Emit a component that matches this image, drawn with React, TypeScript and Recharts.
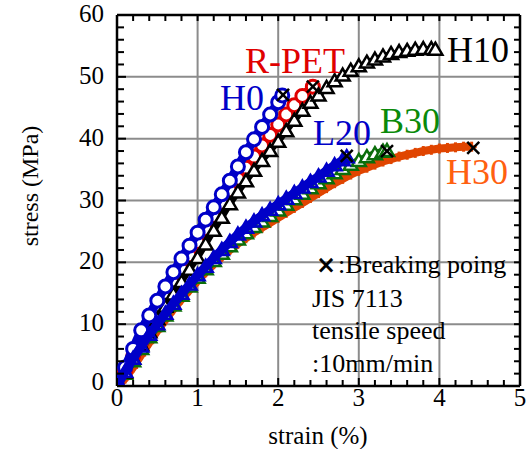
import React from 'react';
import {
  ReferenceArea,
  ReferenceLine,
  Scatter,
  ScatterChart,
  XAxis,
  YAxis,
} from 'recharts';

if (typeof document !== 'undefined') {
  document.body.style.margin = '0';
}

const SERIF = '"Liberation Serif", "Times New Roman", serif';

// strain (%) / stress (MPa)
const h0Strain = [0, 0.1, 0.2, 0.3, 0.4, 0.5, 0.6, 0.7, 0.8, 0.9, 1.0, 1.1, 1.2, 1.3, 1.4, 1.5, 1.6, 1.7, 1.8, 1.9, 2.0, 2.05];
const h0Stress = [0, 3, 6, 9, 11.4, 13.8, 16.1, 18.4, 20.6, 22.7, 24.8, 26.9, 28.9, 31, 33.2, 35.5, 37.8, 39.9, 41.9, 43.9, 45.9, 47];

const rpetStrain = [0, 0.1, 0.2, 0.3, 0.4, 0.5, 0.6, 0.7, 0.8, 0.9, 1.0, 1.1, 1.2, 1.3, 1.4, 1.5, 1.6, 1.7, 1.8, 1.9, 2.0, 2.1, 2.2, 2.3, 2.43];
const rpetStress = [0, 2.4, 4.8, 7.2, 9.6, 12, 14.3, 16.6, 18.9, 21.1, 23.3, 25.4, 27.5, 29.6, 31.6, 33.5, 35.3, 37.1, 38.9, 40.6, 42.3, 43.9, 45.4, 46.9, 48.4];

const h10Strain = [0, 0.1, 0.2, 0.3, 0.4, 0.5, 0.6, 0.7, 0.8, 0.9, 1.0, 1.1, 1.2, 1.3, 1.4, 1.5, 1.6, 1.7, 1.8, 1.9, 2.0, 2.1, 2.2, 2.3, 2.4, 2.5, 2.6, 2.7, 2.8, 2.9, 3.0, 3.1, 3.2, 3.3, 3.4, 3.5, 3.6, 3.7, 3.8, 3.9, 3.95];
const h10Stress = [0, 2.2, 4.4, 6.6, 8.7, 10.8, 12.8, 14.8, 16.8, 18.8, 20.7, 22.9, 25.1, 27.2, 29.4, 31.3, 33.1, 34.8, 36.4, 38, 39.5, 41.2, 42.9, 44.5, 45.8, 47, 48.2, 49.3, 50.2, 51, 51.7, 52.3, 52.8, 53.3, 53.7, 54, 54.2, 54.4, 54.5, 54.5, 54.4];

const l20Strain = [0, 0.1, 0.2, 0.3, 0.4, 0.5, 0.6, 0.7, 0.8, 0.9, 1.0, 1.1, 1.2, 1.3, 1.4, 1.5, 1.6, 1.7, 1.8, 1.9, 2.0, 2.1, 2.2, 2.3, 2.4, 2.5, 2.6, 2.7, 2.8, 2.85];
const l20Stress = [0, 2.3, 4.4, 6.4, 8.3, 10, 11.7, 13.3, 14.9, 16.4, 17.9, 19.3, 20.7, 22, 23.3, 24.5, 25.6, 26.6, 27.6, 28.5, 29.4, 30.3, 31.2, 32.1, 33, 33.9, 34.8, 35.7, 36.5, 37];

const b30Strain = [0, 0.1, 0.2, 0.3, 0.4, 0.5, 0.6, 0.7, 0.8, 0.9, 1.0, 1.1, 1.2, 1.3, 1.4, 1.5, 1.6, 1.7, 1.8, 1.9, 2.0, 2.1, 2.2, 2.3, 2.4, 2.5, 2.6, 2.7, 2.8, 2.9, 3.0, 3.1, 3.2, 3.3, 3.35];
const b30Stress = [0, 2, 4, 6, 7.9, 9.7, 11.4, 13, 14.6, 16.1, 17.5, 18.9, 20.2, 21.4, 22.6, 23.7, 24.7, 25.7, 26.6, 27.5, 28.4, 29.3, 30.2, 31.1, 32, 32.8, 33.6, 34.4, 35.1, 35.8, 36.4, 37, 37.5, 37.9, 38];

const h30Strain = [0, 0.1, 0.2, 0.3, 0.4, 0.5, 0.6, 0.7, 0.8, 0.9, 1.0, 1.1, 1.2, 1.3, 1.4, 1.5, 1.6, 1.7, 1.8, 1.9, 2.0, 2.1, 2.2, 2.3, 2.4, 2.5, 2.6, 2.7, 2.8, 2.9, 3.0, 3.1, 3.2, 3.3, 3.4, 3.5, 3.6, 3.7, 3.8, 3.9, 4.0, 4.1, 4.2, 4.3, 4.4];
const h30Stress = [0, 1.2, 3, 5, 7, 8.9, 10.7, 12.4, 14, 15.5, 17, 18.4, 19.7, 20.9, 22, 23, 23.9, 24.8, 25.6, 26.4, 27.2, 28, 28.8, 29.6, 30.4, 31.2, 32, 32.8, 33.5, 34.2, 34.8, 35.3, 35.8, 36.3, 36.7, 37.1, 37.4, 37.7, 38, 38.2, 38.4, 38.5, 38.6, 38.7, 38.7];

// breaking points (x marks)
const breakStrain = [2.06, 2.43, 2.85, 3.35, 4.42];
const breakStress = [47.1, 48.4, 37.2, 38, 38.5];

const xTicks = [0, 0.2, 0.4, 0.6, 0.8, 1, 1.2, 1.4, 1.6, 1.8, 2, 2.2, 2.4, 2.6, 2.8, 3, 3.2, 3.4, 3.6, 3.8, 4, 4.2, 4.4, 4.6, 4.8, 5];
const yTicks = [0, 2, 4, 6, 8, 10, 12, 14, 16, 18, 20, 22, 24, 26, 28, 30, 32, 34, 36, 38, 40, 42, 44, 46, 48, 50, 52, 54, 56, 58, 60];
const xGrid = [1, 2, 3, 4];
const yGrid = [10, 20, 30, 40, 50];

const zip = (xs: number[], ys: number[]) => xs.map((x, i) => ({ x, y: ys[i] }));

const BLUE = '#0000c8';
const RED = '#e00000';
const GREEN = '#0b6e0b';
const ORANGE = '#e04500';

const isMajor = (v: number, step: number) => Math.abs(v / step - Math.round(v / step)) < 1e-6;

const BottomTick = (p: any) => {
  const v = p.payload.value;
  const major = isMajor(v, 1);
  return (
    <g>
      <line x1={p.x} x2={p.x} y1={p.y} y2={p.y - (major ? 8 : 6)} stroke="#000" strokeWidth={2} />
      {major && (
        <text x={p.x} y={p.y + 20} textAnchor="middle" fontSize={25} fontFamily={SERIF} fill="#000">
          {v}
        </text>
      )}
    </g>
  );
};

const TopTick = (p: any) => (
  <line x1={p.x} x2={p.x} y1={p.y} y2={p.y + 6} stroke="#000" strokeWidth={2} />
);

const LeftTick = (p: any) => {
  const v = p.payload.value;
  const major = isMajor(v, 10);
  return (
    <g>
      <line x1={p.x} x2={p.x + (major ? 9 : 7)} y1={p.y} y2={p.y} stroke="#000" strokeWidth={2} />
      {major && (
        <text x={p.x - 13} y={p.y + (v === 0 ? 4 : 7)} textAnchor="end" fontSize={25} fontFamily={SERIF} fill="#000">
          {v}
        </text>
      )}
    </g>
  );
};

const RightTick = (p: any) => (
  <line x1={p.x} x2={p.x - 6} y1={p.y} y2={p.y} stroke="#000" strokeWidth={2} />
);

const Circle = (color: string) => (p: any) => (
  <circle cx={p.cx} cy={p.cy} r={6.5} fill="#fff" stroke={color} strokeWidth={3} />
);

const Tri = (color: string, fill: string) => (p: any) => (
  <path
    d={`M${p.cx},${p.cy - 7} L${p.cx + 7},${p.cy + 5} L${p.cx - 7},${p.cy + 5} Z`}
    fill={fill}
    stroke={color}
    strokeWidth={2.5}
  />
);

const Cross = (color: string, s: number, w: number) => (p: any) => (
  <g stroke={color} strokeWidth={w}>
    <line x1={p.cx - s} y1={p.cy - s} x2={p.cx + s} y2={p.cy + s} />
    <line x1={p.cx - s} y1={p.cy + s} x2={p.cx + s} y2={p.cy - s} />
  </g>
);

const Plus = (color: string) => (p: any) => (
  <g stroke={color} strokeWidth={3}>
    <line x1={p.cx - 5} y1={p.cy} x2={p.cx + 5} y2={p.cy} />
    <line x1={p.cx} y1={p.cy - 5} x2={p.cx} y2={p.cy + 5} />
  </g>
);

export default function App() {
  const axisLine = { stroke: '#000', strokeWidth: 2.5 };
  return (
    <div style={{ position: 'relative', width: 529, height: 449 }}>
      <ScatterChart width={529} height={449} margin={{ top: 14, right: 8, left: 0, bottom: 0 }}>
        <XAxis
          dataKey="x"
          type="number"
          domain={[0, 5]}
          ticks={xTicks}
          interval={0}
          tickSize={0}
          tickMargin={0}
          height={63}
          axisLine={axisLine}
          tickLine={false}
          tick={BottomTick}
          allowDataOverflow
        />
        <XAxis
          xAxisId="top"
          orientation="top"
          dataKey="x"
          type="number"
          domain={[0, 5]}
          ticks={xTicks}
          interval={0}
          tickSize={0}
          tickMargin={0}
          height={1}
          axisLine={axisLine}
          tickLine={false}
          tick={TopTick}
          allowDataOverflow
        />
        <YAxis
          dataKey="y"
          type="number"
          domain={[0, 60]}
          ticks={yTicks}
          interval={0}
          tickSize={0}
          tickMargin={0}
          width={117}
          axisLine={axisLine}
          tickLine={false}
          tick={LeftTick}
          allowDataOverflow
        />
        <YAxis
          yAxisId="right"
          orientation="right"
          dataKey="y"
          type="number"
          domain={[0, 60]}
          ticks={yTicks}
          interval={0}
          tickSize={0}
          tickMargin={0}
          width={1}
          axisLine={axisLine}
          tickLine={false}
          tick={RightTick}
          allowDataOverflow
        />
        {xGrid.map((v) => (
          <ReferenceLine key={`gx${v}`} x={v} stroke="#8c8c8c" strokeWidth={2} />
        ))}
        {yGrid.map((v) => (
          <ReferenceLine key={`gy${v}`} y={v} stroke="#8c8c8c" strokeWidth={2} />
        ))}
        <ReferenceArea x1={2.4} x2={5} y1={0} y2={22.8} fill="#fff" fillOpacity={1} stroke="none" />
        <Scatter data={zip(h30Strain, h30Stress)} shape={Plus(ORANGE)} line={{ stroke: ORANGE, strokeWidth: 8 }} isAnimationActive={false} />
        <Scatter data={zip(b30Strain, b30Stress)} shape={Tri(GREEN, '#fff')} line={{ stroke: GREEN, strokeWidth: 8 }} isAnimationActive={false} />
        <Scatter data={zip(rpetStrain, rpetStress)} shape={Circle(RED)} line={{ stroke: RED, strokeWidth: 9 }} isAnimationActive={false} />
        <Scatter data={zip(h10Strain, h10Stress)} shape={Tri('#000', '#fff')} line={{ stroke: '#000', strokeWidth: 6 }} isAnimationActive={false} />
        <Scatter data={zip(h0Strain, h0Stress)} shape={Circle(BLUE)} line={{ stroke: BLUE, strokeWidth: 9 }} isAnimationActive={false} />
        <Scatter data={zip(l20Strain, l20Stress)} shape={Tri(BLUE, 'none')} line={{ stroke: BLUE, strokeWidth: 9 }} isAnimationActive={false} />
        <Scatter
          xAxisId="top"
          yAxisId="right"
          data={zip(breakStrain, breakStress)}
          shape={Cross('#000', 6, 2.5)}
          isAnimationActive={false}
        />
      </ScatterChart>
      <svg
        width={529}
        height={449}
        style={{ position: 'absolute', left: 0, top: 0, pointerEvents: 'none' }}
        fontFamily={SERIF}
      >
        <text x={245} y={73} fontSize={36} fill={RED}>R-PET</text>
        <text x={220} y={110} fontSize={36} fill={BLUE}>H0</text>
        <text x={447} y={62} fontSize={36} fill="#000">H10</text>
        <text x={313} y={145} fontSize={36} fill={BLUE}>L20</text>
        <text x={380} y={133} fontSize={36} fill="#0a8a0a">B30</text>
        <text x={446} y={184} fontSize={36} fill="#ff6010">H30</text>
        <text x={316} y={273} fontSize={24} fontWeight="bold" fontFamily="DejaVu Sans" fill="#000">×</text>
        <text x={338} y={273} fontSize={26} fill="#000">:Breaking poing</text>
        <text x={312} y={307} fontSize={26} fill="#000">JIS 7113</text>
        <text x={312} y={339} fontSize={26} fill="#000">tensile speed</text>
        <text x={312} y={372} fontSize={26} fill="#000">:10mm/min</text>
        <text x={318} y={444} fontSize={25} textAnchor="middle" fill="#000">strain (%)</text>
        <text
          x={0}
          y={0}
          fontSize={24}
          textAnchor="middle"
          fill="#000"
          transform="translate(38,186) rotate(-90)"
        >
          stress (MPa)
        </text>
      </svg>
    </div>
  );
}
